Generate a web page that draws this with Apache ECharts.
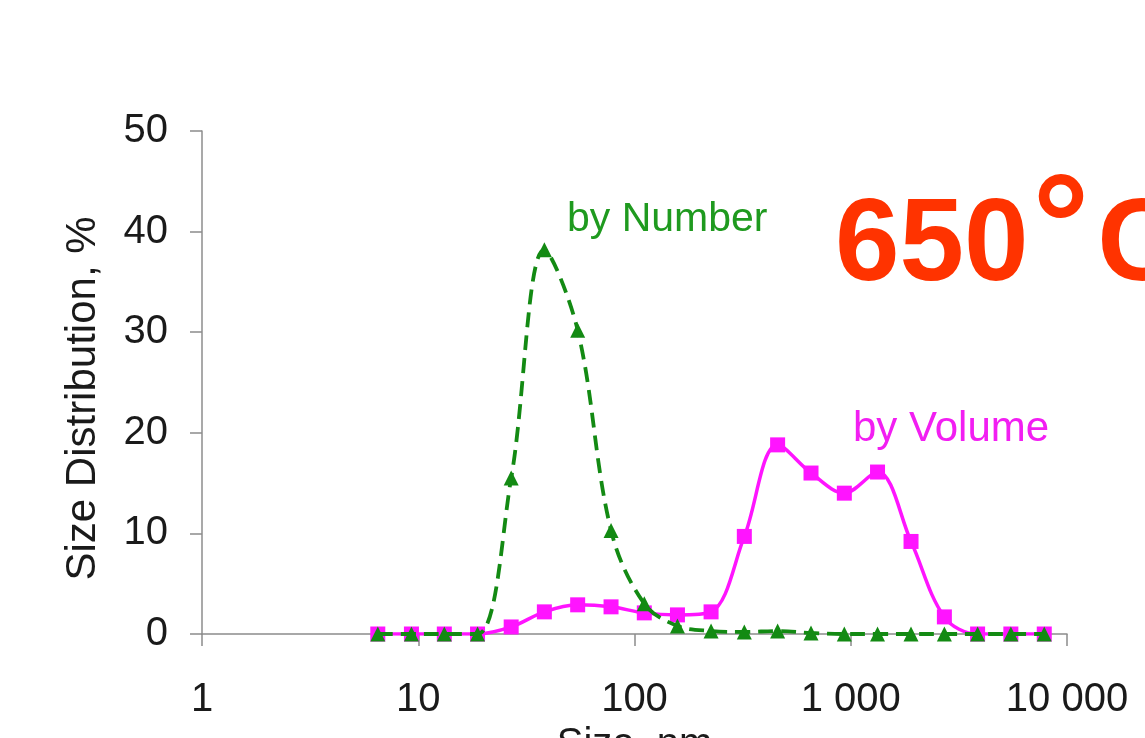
<!DOCTYPE html>
<html>
<head>
<meta charset="utf-8">
<title>Size Distribution 650°C</title>
<script src="https://cdn.jsdelivr.net/npm/echarts@6/dist/echarts.min.js"></script>
<style>
  html, body { margin: 0; padding: 0; background: #ffffff; }
  #chart { width: 1145px; height: 738px; }
</style>
</head>
<body>
<div id="chart"></div>
<script>
// Particle size bins (nm), log-spaced
const sizes = [6.5, 9.3, 13.2, 18.8, 26.9, 38.3, 54.6, 77.9, 111, 158, 226,
               322, 459, 655, 934, 1330, 1900, 2710, 3860, 5500, 7850];

// Distribution by volume (%)
const byVolume = [0, 0, 0, 0, 0.7, 2.2, 2.9, 2.7, 2.1, 1.9, 2.2,
                  9.7, 18.8, 16.0, 14.0, 16.1, 9.2, 1.7, 0, 0, 0];

// Distribution by number (%)
const byNumber = [0, 0, 0, 0, 15.5, 38.2, 30.2, 10.3, 3.0, 0.8, 0.3,
                  0.2, 0.3, 0.1, 0, 0, 0, 0, 0, 0, 0];

// Tick labels for the log size axis
const xTickLabels = { 1: '1', 10: '10', 100: '100', 1000: '1 000', 10000: '10 000' };

const FONT = '"Liberation Sans", Arial, Helvetica, sans-serif';
const GREEN = '#138a13';
const MAGENTA = '#ff14ff';

const pairs = (ys) => sizes.map((s, i) => [s, ys[i]]);

const chart = echarts.init(document.getElementById('chart'), null, { renderer: 'canvas' });

chart.setOption({
  backgroundColor: '#ffffff',
  animation: false,
  grid: { left: 202, top: 131, right: 78, bottom: 104, containLabel: false, outerBoundsMode: 'none' },
  xAxis: {
    type: 'log',
    logBase: 10,
    min: 1,
    max: 10000,
    name: 'Size, nm',
    nameLocation: 'middle',
    nameGap: 82,
    nameTextStyle: { fontFamily: FONT, fontSize: 40, color: '#1a1a1a' },
    axisLine: { show: true, onZero: false, lineStyle: { color: '#8c8c8c', width: 1.5 } },
    axisTick: { show: true, length: 12, inside: false, lineStyle: { color: '#8c8c8c', width: 1.5 } },
    minorTick: { show: false },
    splitLine: { show: false },
    axisLabel: {
      margin: 46,
      fontFamily: FONT,
      fontSize: 40,
      color: '#1a1a1a',
      formatter: (v) => xTickLabels[Math.round(v)] ?? ''
    }
  },
  yAxis: {
    type: 'value',
    min: 0,
    max: 50,
    interval: 10,
    name: 'Size Distribution, %',
    nameLocation: 'middle',
    nameGap: 98,
    nameRotate: 90,
    nameTextStyle: { fontFamily: FONT, fontSize: 42, color: '#1a1a1a', padding: [0, 32, 0, 0] },
    axisLine: { show: true, lineStyle: { color: '#8c8c8c', width: 1.5 } },
    axisTick: { show: true, length: 12, lineStyle: { color: '#8c8c8c', width: 1.5 } },
    splitLine: { show: false },
    axisLabel: { margin: 34, fontFamily: FONT, fontSize: 40, color: '#1a1a1a' }
  },
  series: [
    {
      name: 'by Volume',
      type: 'line',
      data: pairs(byVolume),
      smooth: 0.35,
      symbol: 'rect',
      symbolSize: 15,
      itemStyle: { color: MAGENTA },
      lineStyle: { color: MAGENTA, width: 3.5 },
      z: 2
    },
    {
      name: 'by Number',
      type: 'line',
      data: pairs(byNumber),
      smooth: 0.35,
      symbol: 'triangle',
      symbolSize: [15, 15],
      itemStyle: { color: GREEN },
      lineStyle: { color: GREEN, width: 3.8, type: [15, 8] },
      z: 3
    }
  ],
  graphic: [
    {
      type: 'text',
      left: 567,
      top: 199,
      style: { text: 'by Number', fontFamily: FONT, fontSize: 41, fill: '#1f9a1f' }
    },
    {
      type: 'text',
      left: 853,
      top: 408,
      style: { text: 'by Volume', fontFamily: FONT, fontSize: 42, fill: '#f21ef2' }
    },
    {
      type: 'text',
      left: 835,
      top: 164,
      style: {
        text: '{n|650}{d|°}{n|C}',
        rich: {
          n: { fontFamily: FONT, fontSize: 116, fontWeight: 'bold', fill: '#ff3300', color: '#ff3300', verticalAlign: 'bottom' },
          d: { fontFamily: FONT, fontSize: 142, fontWeight: 'bold', fill: '#ff3300', color: '#ff3300', padding: [0, 8, 0, 4], verticalAlign: 'bottom' }
        }
      }
    }
  ]
});
</script>
</body>
</html>
